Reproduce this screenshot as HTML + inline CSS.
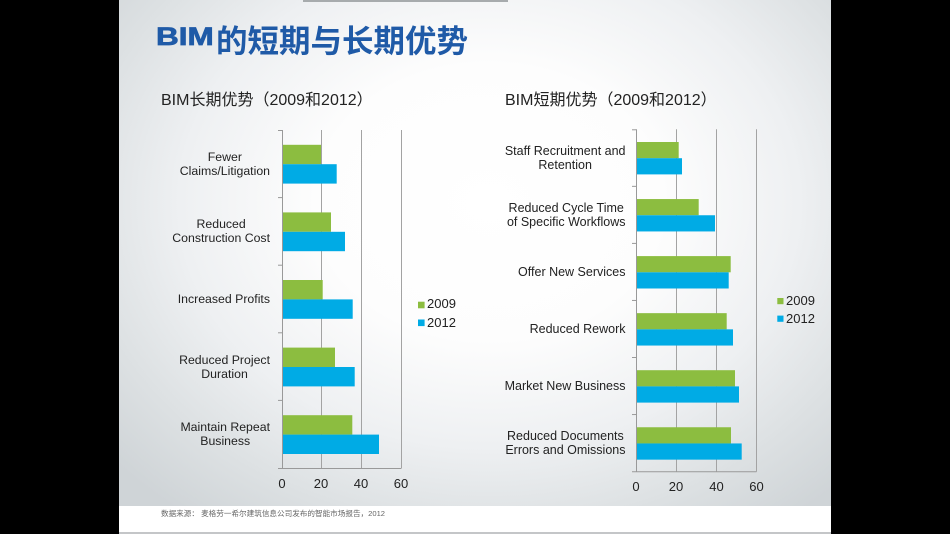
<!DOCTYPE html>
<html>
<head>
<meta charset="utf-8">
<style>
  html,body{margin:0;padding:0;}
  body{width:950px;height:534px;background:#000;position:relative;overflow:hidden;
       font-family:"Liberation Sans","Noto Sans CJK SC",sans-serif;color:#222;}
  .slide{position:absolute;left:119px;top:0;width:712px;height:506px;
    background:radial-gradient(ellipse 70% 78% at 52% 40%, #ffffff 0%, #fdfdfd 35%, #eef0f2 62%, #dde1e3 82%, #cfd4d7 100%);}
  .foot{position:absolute;left:119px;top:506px;width:712px;height:26px;background:#fff;}
  .footline{position:absolute;left:119px;top:532px;width:712px;height:2px;background:#c4c6c8;}
  .strip{position:absolute;left:303px;top:0;width:205px;height:2px;background:#a7abad;}
  .abs{position:absolute;white-space:nowrap;}
  .band{position:absolute;display:flex;align-items:center;justify-content:flex-end;}
  .band div{text-align:center;}
  .lbl1{font-size:12.3px;line-height:14px;}
  .lbl2{font-size:12.5px;line-height:14.3px;}
  .tick{position:absolute;width:30px;text-align:center;font-size:13px;line-height:14px;color:#222;}
  .leg{position:absolute;font-size:13px;line-height:14px;color:#222;}
</style>
</head>
<body>
<div class="slide"></div>
<div class="foot"></div>
<div class="footline"></div>
<div class="strip"></div>

<!-- Title -->
<div class="abs" style="left:156px;top:24.8px;font-size:25px;line-height:25px;font-weight:bold;color:#1f5aa7;-webkit-text-stroke:0.7px #1f5aa7;transform:scaleX(1.26);transform-origin:left top;">BIM</div>
<div class="abs" style="left:216px;top:23.5px;font-size:31.5px;line-height:31.5px;font-weight:bold;color:#1f5aa7;font-family:'Noto Sans CJK SC',sans-serif;">的短期与长期优势</div>

<!-- Subtitles -->
<div class="abs" style="left:161px;top:91px;font-size:16px;line-height:19px;color:#222;">BIM长期优势（2009和2012）</div>
<div class="abs" style="left:505px;top:91px;font-size:16px;line-height:19px;color:#222;">BIM短期优势（2009和2012）</div>

<svg width="950" height="534" style="position:absolute;left:0;top:0;" xmlns="http://www.w3.org/2000/svg">
  <g stroke="#a3a3a3" stroke-width="1">
    <line x1="321.5" y1="130" x2="321.5" y2="468"/>
    <line x1="361.5" y1="130" x2="361.5" y2="468"/>
    <line x1="401.5" y1="130" x2="401.5" y2="468"/>
  </g>
  <g stroke="#999" stroke-width="1">
    <line x1="282.5" y1="130" x2="282.5" y2="468.5"/>
    <line x1="278" y1="468.5" x2="401.5" y2="468.5"/>
    <line x1="278" y1="130.5" x2="282" y2="130.5"/>
    <line x1="278" y1="197.6" x2="282" y2="197.6"/>
    <line x1="278" y1="265.2" x2="282" y2="265.2"/>
    <line x1="278" y1="332.8" x2="282" y2="332.8"/>
    <line x1="278" y1="400.4" x2="282" y2="400.4"/>
  </g>
  <g fill="#8cbd40">
    <rect x="283" y="144.8" width="38" height="19.4"/>
    <rect x="283" y="212.4" width="48" height="19.4"/>
    <rect x="283" y="280" width="39.7" height="19.4"/>
    <rect x="283" y="347.6" width="52" height="19.4"/>
    <rect x="283" y="415.2" width="69.3" height="19.4"/>
  </g>
  <g fill="#00abe5">
    <rect x="283" y="164.2" width="53.7" height="19.4"/>
    <rect x="283" y="231.8" width="62" height="19.4"/>
    <rect x="283" y="299.4" width="69.7" height="19.4"/>
    <rect x="283" y="367" width="71.7" height="19.4"/>
    <rect x="283" y="434.6" width="96" height="19.4"/>
  </g>

  <g stroke="#a3a3a3" stroke-width="1">
    <line x1="676.5" y1="129.3" x2="676.5" y2="471.6"/>
    <line x1="716.5" y1="129.3" x2="716.5" y2="471.6"/>
    <line x1="756.5" y1="129.3" x2="756.5" y2="471.6"/>
  </g>
  <g stroke="#999" stroke-width="1">
    <line x1="636.5" y1="129.3" x2="636.5" y2="472"/>
    <line x1="632" y1="471.8" x2="756.5" y2="471.8"/>
    <line x1="632" y1="129.8" x2="636" y2="129.8"/>
    <line x1="632" y1="186.35" x2="636" y2="186.35"/>
    <line x1="632" y1="243.4" x2="636" y2="243.4"/>
    <line x1="632" y1="300.45" x2="636" y2="300.45"/>
    <line x1="632" y1="357.5" x2="636" y2="357.5"/>
    <line x1="632" y1="414.55" x2="636" y2="414.55"/>
  </g>
  <g fill="#8cbd40">
    <rect x="637" y="142" width="41.7" height="16.2"/>
    <rect x="637" y="199.05" width="61.7" height="16.2"/>
    <rect x="637" y="256.1" width="93.7" height="16.2"/>
    <rect x="637" y="313.15" width="89.7" height="16.2"/>
    <rect x="637" y="370.2" width="98" height="16.2"/>
    <rect x="637" y="427.25" width="94" height="16.2"/>
  </g>
  <g fill="#00abe5">
    <rect x="637" y="158.2" width="45" height="16.2"/>
    <rect x="637" y="215.25" width="78" height="16.2"/>
    <rect x="637" y="272.3" width="91.7" height="16.2"/>
    <rect x="637" y="329.35" width="96" height="16.2"/>
    <rect x="637" y="386.4" width="102" height="16.2"/>
    <rect x="637" y="443.45" width="104.7" height="16.2"/>
  </g>

  <rect x="418" y="301.7" width="6.6" height="6.6" fill="#8cbd40"/>
  <rect x="418" y="319.5" width="6.6" height="6.6" fill="#00abe5"/>
  <rect x="777.3" y="298" width="6.2" height="6.2" fill="#8cbd40"/>
  <rect x="777.3" y="315.6" width="6.2" height="6.2" fill="#00abe5"/>
</svg>

<div class="band lbl1" style="left:140px;width:130px;top:130px;height:67.6px;"><div>Fewer<br>Claims/Litigation</div></div>
<div class="band lbl1" style="left:140px;width:130px;top:197.6px;height:67.6px;"><div>Reduced<br>Construction Cost</div></div>
<div class="band lbl1" style="left:140px;width:130px;top:265.2px;height:67.6px;"><div>Increased Profits</div></div>
<div class="band lbl1" style="left:140px;width:130px;top:332.8px;height:67.6px;"><div>Reduced Project<br>Duration</div></div>
<div class="band lbl1" style="left:140px;width:130px;top:400.4px;height:67.6px;"><div>Maintain Repeat<br>Business</div></div>

<div class="band lbl2" style="left:480px;width:145.5px;top:129.3px;height:57.05px;"><div>Staff Recruitment and<br>Retention</div></div>
<div class="band lbl2" style="left:480px;width:145.5px;top:186.35px;height:57.05px;"><div>Reduced Cycle Time<br>of Specific Workflows</div></div>
<div class="band lbl2" style="left:480px;width:145.5px;top:243.4px;height:57.05px;"><div>Offer New Services</div></div>
<div class="band lbl2" style="left:480px;width:145.5px;top:300.45px;height:57.05px;"><div>Reduced Rework</div></div>
<div class="band lbl2" style="left:480px;width:145.5px;top:357.5px;height:57.05px;"><div>Market New Business</div></div>
<div class="band lbl2" style="left:480px;width:145.5px;top:414.55px;height:57.05px;"><div>Reduced Documents<br>Errors and Omissions</div></div>

<div class="tick" style="left:267px;top:477px;">0</div>
<div class="tick" style="left:306px;top:477px;">20</div>
<div class="tick" style="left:346px;top:477px;">40</div>
<div class="tick" style="left:386px;top:477px;">60</div>
<div class="tick" style="left:621px;top:480px;">0</div>
<div class="tick" style="left:661px;top:480px;">20</div>
<div class="tick" style="left:701.5px;top:480px;">40</div>
<div class="tick" style="left:741.5px;top:480px;">60</div>

<div class="leg" style="left:427px;top:297px;">2009</div>
<div class="leg" style="left:427px;top:315.5px;">2012</div>
<div class="leg" style="left:786px;top:293.5px;">2009</div>
<div class="leg" style="left:786px;top:311.5px;">2012</div>

<div class="abs" style="left:161px;top:509px;font-size:7.6px;line-height:10px;color:#666;font-family:'Liberation Sans','Noto Sans CJK SC',sans-serif;">数据来源：&nbsp;麦格劳一希尔建筑信息公司发布的智能市场报告，2012</div>
</body>
</html>
